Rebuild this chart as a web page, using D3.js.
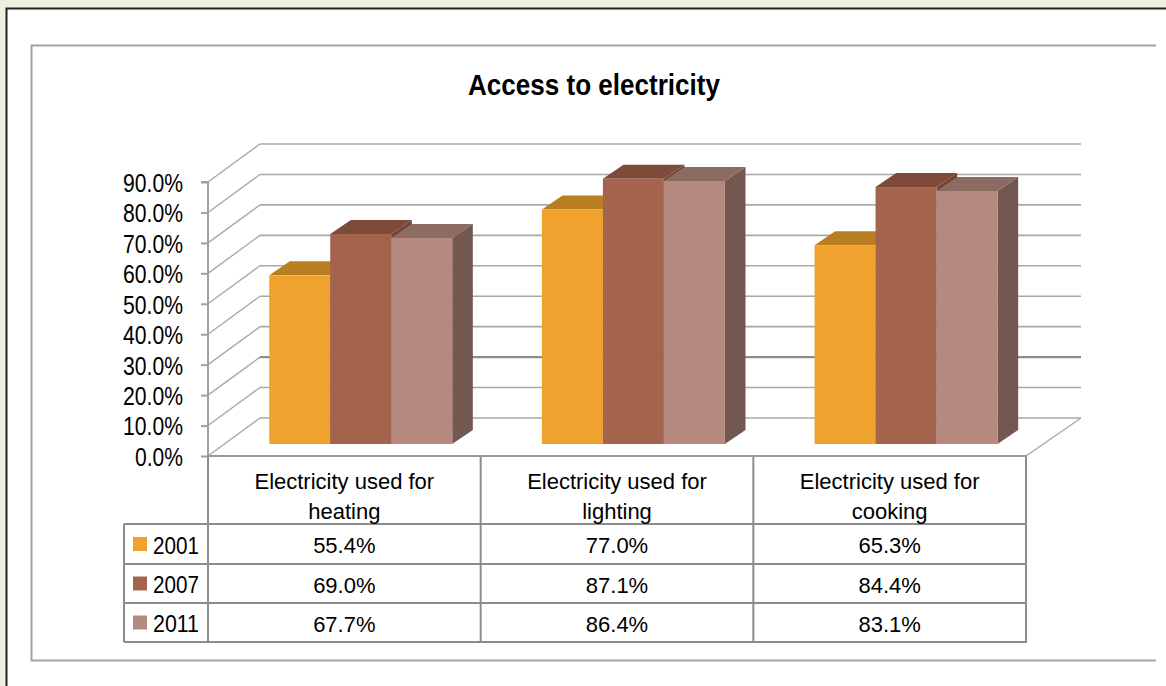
<!DOCTYPE html>
<html>
<head>
<meta charset="utf-8">
<script src="https://cdn.jsdelivr.net/npm/d3@7"></script>
<style>
  html, body { margin: 0; padding: 0; background: #ebf1de; }
  svg { display: block; }
  text { font-family: "Liberation Sans", Arial, sans-serif; fill: #000; }
</style>
</head>
<body>
<script>
// Chart data
const categories = ["Electricity used for heating", "Electricity used for lighting", "Electricity used for cooking"];
const categoryLines = [["Electricity used for", "heating"], ["Electricity used for", "lighting"], ["Electricity used for", "cooking"]];
const seriesNames = ["2001", "2007", "2011"];
const values2001 = [0.554, 0.770, 0.653];
const values2007 = [0.690, 0.871, 0.844];
const values2011 = [0.677, 0.864, 0.831];
const yTicks = [0, 0.1, 0.2, 0.3, 0.4, 0.5, 0.6, 0.7, 0.8, 0.9];
const chartTitle = "Access to electricity";

const seriesValues = [values2001, values2007, values2011];
const faceColors = {
  "2001": { front: "#f0a22e", top: "#ba7e22", side: "#a86f1c" },
  "2007": { front: "#a3634c", top: "#7e4b3b", side: "#744536" },
  "2011": { front: "#b5897d", top: "#8b6b62", side: "#735850" }
};

const W = 1166, H = 686;
const svg = d3.select("body").append("svg").attr("width", W).attr("height", H);

// Page frame and chart border
svg.append("rect").attr("x", 0).attr("y", 0).attr("width", W).attr("height", H).attr("fill", "#ebf1de");
svg.append("rect").attr("x", 6.5).attr("y", 8.5).attr("width", W + 20).attr("height", H + 20)
  .attr("fill", "#fff").attr("stroke", "#222").attr("stroke-width", 2);
svg.append("path").attr("d", "M1156,45.5 H31.5 V660.5 H1156")
  .attr("fill", "none").attr("stroke", "#a3a3a3").attr("stroke-width", 2);

// Title
svg.append("text").attr("x", 594).attr("y", 94.5).attr("text-anchor", "middle")
  .attr("font-size", 29).attr("font-weight", "bold")
  .attr("textLength", 252).attr("lengthAdjust", "spacingAndGlyphs")
  .text(chartTitle);

// Scales: front plane of the 3-D box
const x = d3.scaleBand().domain(categories).range([208, 1026]).padding(0);
const xInner = d3.scaleBand().domain(seriesNames).range([0, x.bandwidth()])
  .paddingInner(0).paddingOuter(0.735);
const y = d3.scaleLinear().domain([0, 0.9]).range([456, 182]);

// Depth offsets (back wall, bar front, bar back)
const wallDx = 52, wallDy = -38;
const barFx = 16.4, barFy = -12;
const barBx = 37, barBy = -26;

const grid = svg.append("g").attr("fill", "none");
const backLeft = x.range()[0] + wallDx, backRight = x.range()[1] + wallDx + 3;

// Back wall gridlines and left wall diagonals
yTicks.forEach(t => {
  const yf = y(t), yb = y(t) + wallDy;
  const dark = Math.abs(t - 0.2) < 1e-9;
  grid.append("line").attr("x1", backLeft).attr("x2", backRight).attr("y1", yb).attr("y2", yb)
    .attr("stroke", dark ? "#8c8c8c" : "#a8a8a8").attr("stroke-width", dark ? 2.2 : 1.6);
  grid.append("line").attr("x1", x.range()[0]).attr("y1", yf).attr("x2", backLeft).attr("y2", yb)
    .attr("stroke", "#a8a8a8").attr("stroke-width", 1.4);
});
// Floor right edge
grid.append("line").attr("x1", x.range()[1]).attr("y1", y(0))
  .attr("x2", backRight).attr("y2", y(0) + wallDy)
  .attr("stroke", "#a8a8a8").attr("stroke-width", 1.4);

// Vertical axis
const yAxis = d3.axisLeft(y).tickValues(yTicks).tickFormat(d3.format(".1%"))
  .tickSize(7).tickPadding(18);
const axisG = svg.append("g").attr("transform", `translate(${x.range()[0]},0)`).call(yAxis);
axisG.select(".domain").attr("stroke", "#a0a0a0").attr("stroke-width", 2)
  .attr("d", `M-7,${y(0.9)}H0V${y(0)}`);
axisG.selectAll(".tick line").attr("stroke", "#a0a0a0").attr("stroke-width", 2);
axisG.selectAll(".tick text")
  .attr("font-size", 26).attr("font-family", "Liberation Sans, Arial, sans-serif")
  .attr("fill", "#000").attr("dy", "0.36em")
  .attr("textLength", 60).attr("lengthAdjust", "spacingAndGlyphs");
axisG.selectAll(".tick").filter(d => d === 0).select("text").attr("textLength", 48);

// 3-D bars
const bars = svg.append("g");
categories.forEach((cat, ci) => {
  seriesNames.forEach((s, si) => {
    const v = seriesValues[si][ci];
    const x0 = x(cat) + xInner(s), x1 = x0 + xInner.bandwidth();
    const yt = y(v), y0 = y(0);
    const c = faceColors[s];
    const pts = arr => arr.map(p => p.join(",")).join(" ");
    // side face
    bars.append("polygon").attr("fill", c.side).attr("points", pts([
      [x1 + barFx, yt + barFy], [x1 + barBx, yt + barBy], [x1 + barBx, y0 + barBy], [x1 + barFx, y0 + barFy]]));
    // top face
    bars.append("polygon").attr("fill", c.top).attr("points", pts([
      [x0 + barFx, yt + barFy], [x1 + barFx, yt + barFy], [x1 + barBx, yt + barBy], [x0 + barBx, yt + barBy]]));
    // front face
    bars.append("rect").attr("fill", c.front)
      .attr("x", x0 + barFx).attr("y", yt + barFy)
      .attr("width", x1 - x0).attr("height", y0 - yt);
  });
});

// Data table below the axis
const table = svg.append("g");
const rowTops = [524, 564, 603, 642];
const legendLeft = 124;
const tableStroke = "#8c8c8c";
const colEdges = categories.map(c => x(c)).concat([x.range()[1]]);

// header row cells
colEdges.forEach(cx => {
  table.append("line").attr("x1", cx).attr("x2", cx).attr("y1", y(0)).attr("y2", rowTops[3])
    .attr("stroke", tableStroke).attr("stroke-width", 2);
});
table.append("line").attr("x1", x.range()[0] - 1).attr("x2", x.range()[1] + 1).attr("y1", y(0)).attr("y2", y(0))
  .attr("stroke", "#9a9a9a").attr("stroke-width", 2);
rowTops.forEach(ry => {
  table.append("line").attr("x1", legendLeft).attr("x2", x.range()[1] + 1).attr("y1", ry).attr("y2", ry)
    .attr("stroke", tableStroke).attr("stroke-width", 2);
});
table.append("line").attr("x1", legendLeft).attr("x2", legendLeft).attr("y1", rowTops[0]).attr("y2", rowTops[3])
  .attr("stroke", tableStroke).attr("stroke-width", 2);

// category labels
categories.forEach((cat, ci) => {
  const cx = x(cat) + x.bandwidth() / 2;
  categoryLines[ci].forEach((line, li) => {
    table.append("text").attr("x", cx).attr("y", 489 + li * 30).attr("text-anchor", "middle")
      .attr("font-size", 22).text(line);
  });
});

// series rows
const fmt = d3.format(".1%");
seriesNames.forEach((s, si) => {
  const cy = (rowTops[si] + rowTops[si + 1]) / 2;
  table.append("rect").attr("x", 133).attr("y", cy - 7).attr("width", 14).attr("height", 14)
    .attr("fill", faceColors[s].front);
  table.append("text").attr("x", 153).attr("y", cy + 9.5).attr("font-size", 24.5)
    .attr("textLength", 46).attr("lengthAdjust", "spacingAndGlyphs").text(s);
  categories.forEach((cat, ci) => {
    table.append("text").attr("x", x(cat) + x.bandwidth() / 2).attr("y", cy + 9)
      .attr("text-anchor", "middle").attr("font-size", 22)
      .text(fmt(seriesValues[si][ci]));
  });
});
</script>
</body>
</html>
